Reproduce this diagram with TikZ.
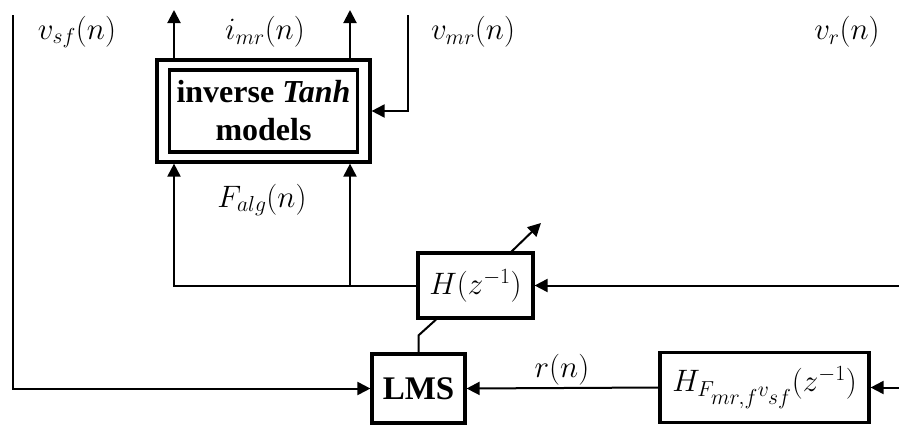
\RequirePackage{fix-cm}
\documentclass[tikz,border=0pt]{standalone}
\usepackage{fontspec}
\setmainfont{Liberation Serif}
\usetikzlibrary{arrows.meta,calc}
\begin{document}
\begin{tikzpicture}[x=1pt,y=-1pt,
  every node/.style={font=\fontsize{31}{37}\selectfont},
  conn/.style={line width=2pt,-{Triangle[length=13pt,width=13pt]}},
  wire/.style={line width=2pt},
  blk/.style={draw,line width=3.2pt,inner sep=0pt},
  btxt/.style={font=\fontsize{32}{38}\selectfont\bfseries},
  lab/.style={inner sep=0pt}]
\useasboundingbox (0,0) rectangle (899,426);
% blocks
\node[blk,minimum width=213pt,minimum height=102pt] (invout) at (263.5,111) {};
\node[blk,btxt,minimum width=188pt,minimum height=82pt,align=center] (inv) at (263.5,111) {inverse \textit{Tanh}\\models};
\node[blk,minimum width=115pt,minimum height=65pt] (H) at (475.5,285.5) {$H(z^{-1})$};
\node[blk,btxt,font=\fontsize{33}{38}\selectfont\bfseries,minimum width=93pt,minimum height=69pt] (LMS) at (418.5,388.5) {LMS};
\node[blk,minimum width=209pt,minimum height=70pt] (HF) at (764.5,387.5) {$H_{F_{\scriptstyle mr,f}v_{\scriptstyle sf}}(z^{-1})$};
% coordinates
\coordinate (vs) at (13,15);
\coordinate (o1) at (174,10);
\coordinate (o2) at (350,10);
\coordinate (vm) at (408,15);
\coordinate (adS) at (510,253);
\coordinate (adE) at (541,223);
\coordinate (rin1) at (899,285.5);
\coordinate (rin2) at (899,387.5);
% connectors
\draw[conn] (vs) |- (LMS.west);
\draw[conn] (invout.north -| o1) -- (o1);
\draw[conn] (invout.north -| o2) -- (o2);
\draw[conn] (vm) |- (invout.east);
\draw[conn] (H.west) -| (invout.south -| o1);
\draw[conn] (H.west -| o2) -- (invout.south -| o2);
\draw[conn] (adS) -- (adE);
\draw[wire] ($(H.south)+(-39.5,0)$) -- ($(LMS.north)+(0,-17)$) -- (LMS.north);
\draw[conn] (HF.west) -- (LMS.east);
\draw[conn] (rin1) -- (H.east);
\draw[conn] (rin2) -- (HF.east);
% labels
\node[lab] (lvs) at (77,32) {$v_{sf}(n)$};
\node[lab] (limr) at (265,32) {$i_{mr}(n)$};
\node[lab] (lvm) at (473,32) {$v_{mr}(n)$};
\node[lab] (lvr) at (847,32) {$v_r(n)$};
\node[lab] (lf) at (262,200) {$F_{alg}(n)$};
\node[lab] (lr) at (562,370) {$r(n)$};
\end{tikzpicture}
\end{document}
